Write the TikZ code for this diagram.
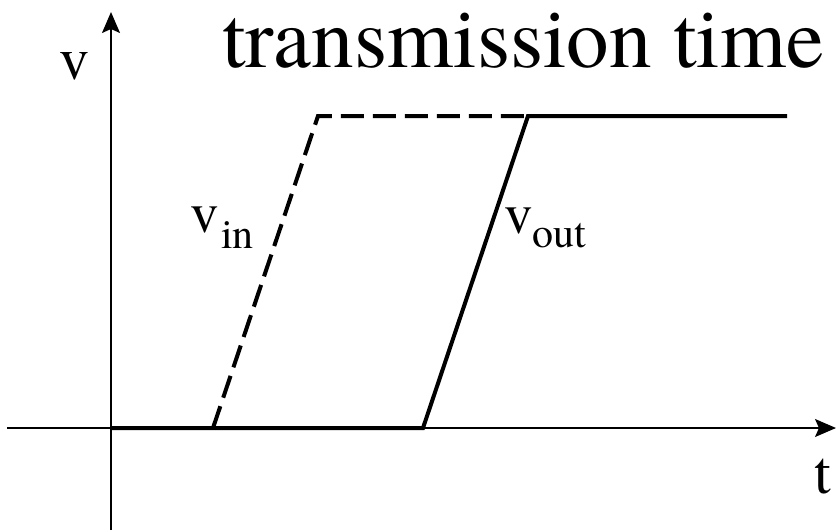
\documentclass[tikz,border=0pt]{standalone}
\usepackage{fontspec}
\newfontfamily\tnr{texgyretermes-regular.otf}
\usetikzlibrary{arrows.meta}
\begin{document}
\begin{tikzpicture}[x=1pt,y=-1pt,
  axis/.style={line width=1.4pt,-{Stealth[length=21pt,width=18pt,inset=4pt]}},
  sig/.style={line width=4pt,line join=miter},
  dsig/.style={line width=4pt,dash pattern=on 23pt off 9pt},
  lbl/.style={anchor=base west,inner sep=0pt,outer sep=0pt},
  big/.style={lbl,font=\tnr\fontsize{60}{60}\selectfont},
  mid/.style={lbl,font=\tnr\fontsize{57}{57}\selectfont},
  sub/.style={lbl,font=\tnr\fontsize{42}{42}\selectfont}]
\useasboundingbox (0,0) rectangle (836,531);
% axes
\coordinate (ybot) at (111,530);
\coordinate (ytop) at (111,12);
\coordinate (xl) at (7,428);
\coordinate (xr) at (836,428);
\draw[axis] (ybot) -- (ytop);
\draw[axis] (xl) -- (xr);
% signal points
\coordinate (o) at (111,428);
\coordinate (inlow) at (213,428);
\coordinate (inhigh) at (318,116);
\coordinate (outlow) at (423,428);
\coordinate (outhigh) at (528,116);
\coordinate (outend) at (787,116);
\draw[sig] (o) -- (outlow) -- (outhigh) -- (outend);
\draw[dsig] (inlow) -- (inhigh) -- (outhigh);
% labels
\node[lbl,font=\tnr\fontsize{85}{85}\selectfont] (title) at (222,67) {transmission time};
\node[big] (vlab) at (59,79) {v};
\node[big] (tlab) at (814,493) {t};
\node[mid] (vin) at (190,232) {v};
\node[sub] (vinsub) at (221,248) {in};
\node[mid] (vout) at (504,233) {v};
\node[sub] (voutsub) at (532,247) {out};
\end{tikzpicture}
\end{document}
